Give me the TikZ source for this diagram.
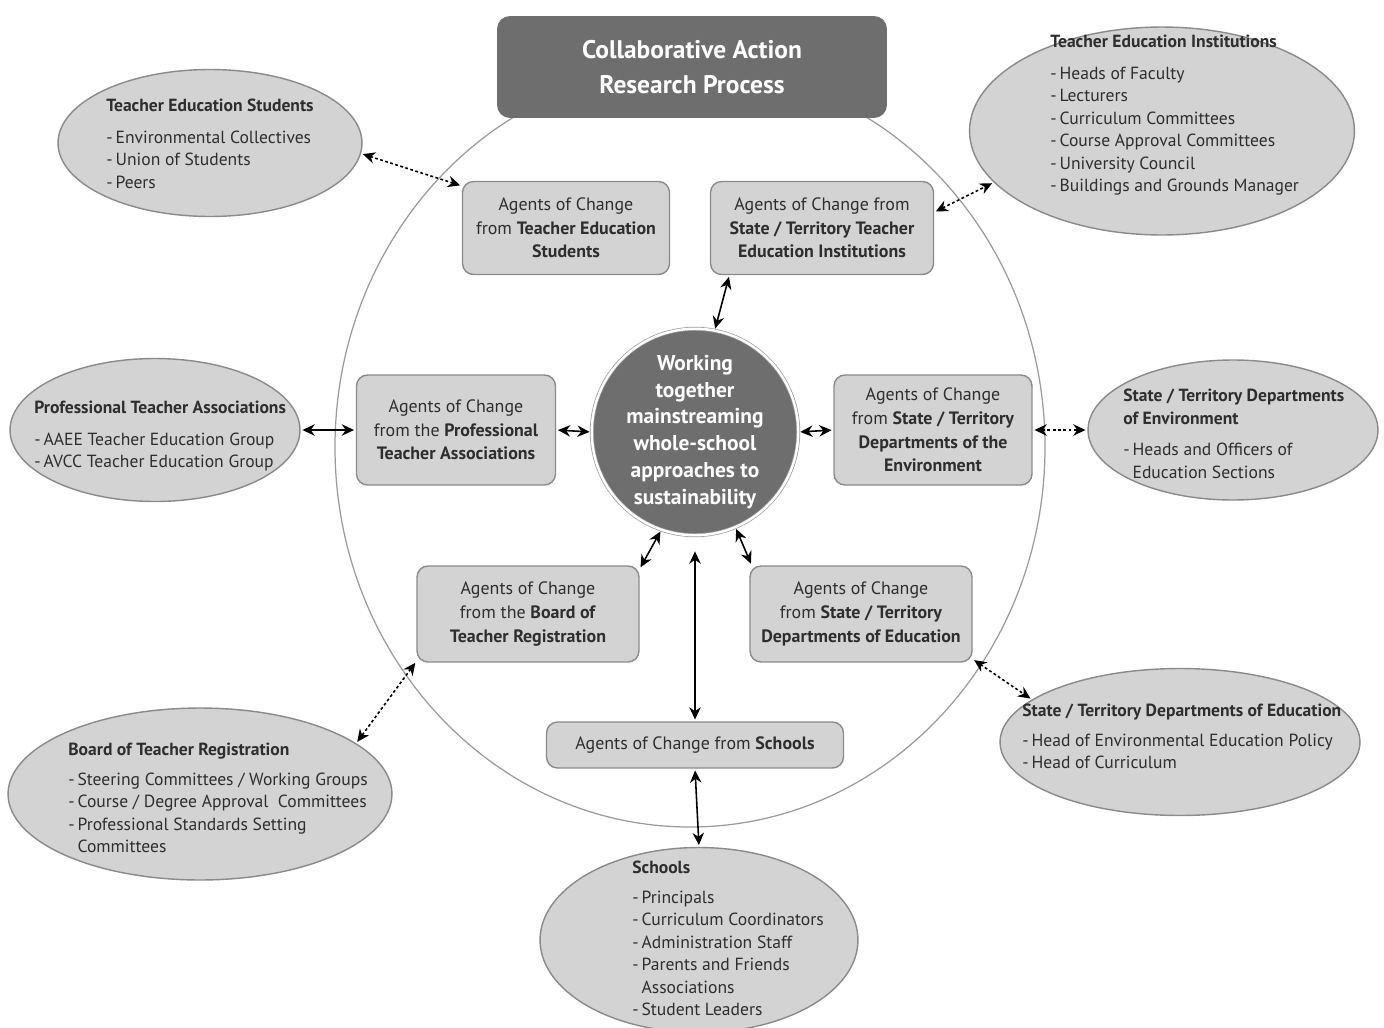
\documentclass[tikz,border=0pt]{standalone}
\usepackage{fontspec}
\setmainfont{PT Sans}
\usetikzlibrary{shapes.geometric,arrows.meta}
\definecolor{hubgray}{HTML}{6E6E6E}
\definecolor{boxgray}{HTML}{D3D3D3}
\definecolor{edgegray}{HTML}{8A8A8A}
\definecolor{ringgray}{HTML}{9A9A9A}
\definecolor{inkgray}{HTML}{2E2E2E}
\newcommand{\itm}{-\,}
\newcommand{\ind}{\phantom{-\,}}
\begin{document}
\begin{tikzpicture}[x=0.02cm,y=-0.02cm,
    agentbox/.style={draw=edgegray,fill=boxgray,line width=0.8pt,rounded corners=0.22cm,
        align=center,inner sep=2pt,text=inkgray,font=\fontsize{10.2}{13.5}\selectfont},
    groupell/.style={ellipse,draw=edgegray,fill=boxgray,line width=0.8pt,inner sep=0pt},
    grouptext/.style={anchor=north west,align=left,inner sep=0pt,text=inkgray,
        font=\fontsize{10}{12.8}\selectfont},
    link/.style={{Stealth[length=7pt,width=6.5pt]}-{Stealth[length=7pt,width=6.5pt]},
        line width=0.9pt,shorten <=1pt,shorten >=1pt},
    linkdot/.style={link,dash pattern=on 1.6pt off 1.4pt}]
            \useasboundingbox[fill=white] (0,0) rectangle (1384,1028);
            % outer ring
            \draw[ringgray,line width=0.7pt] (690,447) ellipse [x radius=355,y radius=380];
            % title and hub
            \node[fill=hubgray,rounded corners=0.26cm,minimum width=7.8cm,minimum height=2.04cm,
                align=center,text=white,font=\bfseries\fontsize{14.5}{20}\selectfont]
                (title) at (692,67) {Collaborative Action\\Research Process};
            \node[circle,fill=hubgray,draw=ringgray,double=white,double distance=1.4pt,
                minimum size=3.95cm,inner sep=0pt,align=center,text=white,
                font=\bfseries\fontsize{12.2}{15.3}\selectfont]
                (hub) at (695,432) {Working\\together\\mainstreaming\\whole-school\\approaches to\\sustainability};
            % agents of change
            \node[agentbox,minimum width=4.14cm,minimum height=1.86cm] (tesBox) at (566,228)
                {Agents of Change\\from \textbf{Teacher Education}\\\textbf{Students}};
            \node[agentbox,minimum width=4.46cm,minimum height=1.86cm] (sttBox) at (822,228)
                {Agents of Change from\\\textbf{State / Territory Teacher}\\\textbf{Education Institutions}};
            \node[agentbox,minimum width=3.98cm,minimum height=2.2cm] (ptaBox) at (456,430)
                {Agents of Change\\from the \textbf{Professional}\\\textbf{Teacher Associations}};
            \node[agentbox,minimum width=3.96cm,minimum height=2.2cm] (doeBox) at (933,430)
                {Agents of Change\\from \textbf{State / Territory}\\\textbf{Departments of the}\\\textbf{Environment}};
            \node[agentbox,minimum width=4.44cm,minimum height=1.92cm] (bdBox) at (528,614)
                {Agents of Change\\from the \textbf{Board of}\\\textbf{Teacher Registration}};
            \node[agentbox,minimum width=4.44cm,minimum height=1.92cm] (deBox) at (861,614)
                {Agents of Change\\from \textbf{State / Territory}\\\textbf{Departments of Education}};
            \node[agentbox,minimum width=5.94cm,minimum height=0.92cm] (schBox) at (695,745)
                {Agents of Change from \textbf{Schools}};
            % outside groups
            \node[groupell,minimum width=6.08cm,minimum height=2.94cm] (tesEll) at (210,143) {};
            \node[grouptext] (tesTxt) at (106,99) {\textbf{Teacher Education Students}\\[5pt]
                \itm Environmental Collectives\\\itm Union of Students\\\itm Peers};
            \node[groupell,minimum width=7.7cm,minimum height=4.16cm] (teiEll) at (1162,131) {};
            \node[grouptext] (teiTxt) at (1050,35) {\textbf{Teacher Education Institutions}\\[5pt]
                \itm Heads of Faculty\\\itm Lecturers\\\itm Curriculum Committees\\
                \itm Course Approval Committees\\\itm University Council\\\itm Buildings and Grounds Manager};
            \node[groupell,minimum width=5.8cm,minimum height=2.86cm] (ptaEll) at (155,430) {};
            \node[grouptext] (ptaTxt) at (34,401) {\textbf{Professional Teacher Associations}\\[5pt]
                \itm AAEE Teacher Education Group\\\itm AVCC Teacher Education Group};
            \node[groupell,minimum width=5.8cm,minimum height=2.8cm] (doeEll) at (1233,430) {};
            \node[grouptext] (doeTxt) at (1123,389) {\textbf{State / Territory Departments}\\
                \textbf{of Environment}\\[5pt]\itm Heads and Officers of\\\ind Education Sections};
            \node[groupell,minimum width=7.68cm,minimum height=3.44cm] (bdEll) at (200,794) {};
            \node[grouptext] (bdTxt) at (68,743) {\textbf{Board of Teacher Registration}\\[4pt]
                \itm Steering Committees / Working Groups\\\itm Course / Degree Approval\ \ Committees\\
                \itm Professional Standards Setting\\\ind Committees};
            \node[groupell,minimum width=7.2cm,minimum height=2.94cm] (deEll) at (1180,742) {};
            \node[grouptext] (deTxt) at (1022,704) {\textbf{State / Territory Departments of Education}\\[4pt]
                \itm Head of Environmental Education Policy\\\itm Head of Curriculum};
            \node[groupell,minimum width=6.36cm,minimum height=3.7cm] (schEll) at (699,940) {};
            \node[grouptext] (schTxt) at (632,861) {\textbf{Schools}\\[4pt]
                \itm Principals\\\itm Curriculum Coordinators\\\itm Administration Staff\\
                \itm Parents and Friends\\\ind Associations\\\itm Student Leaders};
            % connectors
            \draw[linkdot] (tesEll.-4) -- (tesBox.158);
            \draw[linkdot] (sttBox.8) -- (teiEll.197);
            \draw[link] (sttBox.207) -- (hub.79);
            \draw[link] (ptaEll.east) -- (ptaBox.west);
            \draw[link] (ptaBox.east) -- (hub.west);
            \draw[link] (hub.east) -- (doeBox.west);
            \draw[linkdot] (doeBox.east) -- (doeEll.west);
            \draw[link] (hub.251) -- (bdBox.22);
            \draw[link,shorten <=9pt] (hub.south) -- (schBox.north);
            \draw[link] (hub.293) -- (deBox.156);
            \draw[linkdot] (bdBox.203) -- (bdEll.18);
            \draw[linkdot] (deBox.-22) -- (deEll.164);
            \draw[link] (schBox.south) -- (schEll.north);
        \end{tikzpicture}
\end{document}
